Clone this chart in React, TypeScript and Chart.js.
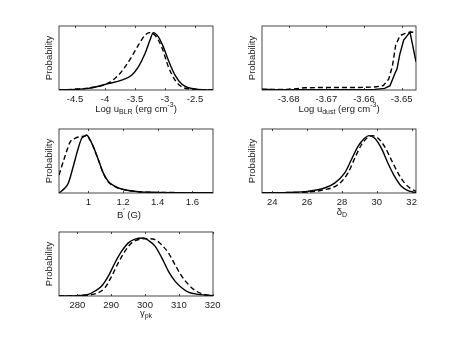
import React, { useEffect, useRef } from "react";
import { Chart, registerables } from "chart.js";
Chart.register(...registerables);

const W = 460;
const H = 345;

// ---- Panel 1: Log u_BLR ----
const blrSolidX = [-4.767, -4.5, -4.278, -3.944, -3.722, -3.556, -3.444, -3.333, -3.25, -3.194, -3.111, -3.028, -2.944, -2.833, -2.722, -2.611, -2.444, -2.2];
const blrSolidY = [0, 0.01, 0.026, 0.1, 0.155, 0.23, 0.36, 0.57, 0.78, 0.896, 0.83, 0.674, 0.466, 0.233, 0.093, 0.036, 0.01, 0];
const blrDashX = [-4.767, -4.5, -4.278, -3.944, -3.778, -3.667, -3.556, -3.444, -3.333, -3.261, -3.167, -3.056, -2.944, -2.833, -2.722, -2.556, -2.2];
const blrDashY = [0, 0.012, 0.03, 0.11, 0.23, 0.36, 0.52, 0.7, 0.855, 0.896, 0.855, 0.674, 0.363, 0.155, 0.05, 0.015, 0];
const blrTicks = [-4.5, -4, -3.5, -3, -2.5];
const blrTickLabels = ["-4.5", "-4", "-3.5", "-3", "-2.5"];

// ---- Panel 2: Log u_dust ----
const dustSolidX = [-3.68708, -3.68372, -3.67929, -3.67044, -3.66159, -3.65717, -3.65451, -3.6531, -3.65186, -3.65124, -3.65053, -3.64947, -3.64779, -3.6462];
const dustSolidY = [0.012, 0.005, 0.004, 0.005, 0.006, 0.01, 0.025, 0.067, 0.25, 0.33, 0.55, 0.78, 0.905, 0.44];
const dustDashX = [-3.68708, -3.68283, -3.67929, -3.67575, -3.67044, -3.66159, -3.65717, -3.65487, -3.65345, -3.65248, -3.65159, -3.65044, -3.6492, -3.64779, -3.6462];
const dustDashY = [0.01, 0.008, 0.012, 0.035, 0.04, 0.04, 0.046, 0.07, 0.17, 0.37, 0.7, 0.85, 0.88, 0.905, 0.9];
const dustTicks = [-3.68, -3.67, -3.66, -3.65];
const dustTickLabels = ["-3.68", "-3.67", "-3.66", "-3.65"];

// ---- Panel 3: B' ----
const bSolidX = [0.831, 0.865, 0.885, 0.913, 0.942, 0.962, 0.981, 0.99, 1.01, 1.029, 1.058, 1.087, 1.115, 1.154, 1.192, 1.288, 1.385, 1.719];
const bSolidY = [0, 0.078, 0.155, 0.415, 0.7, 0.855, 0.89, 0.907, 0.83, 0.725, 0.52, 0.31, 0.18, 0.104, 0.062, 0.02, 0.01, 0.005];
const bDashX = [0.831, 0.865, 0.894, 0.923, 0.952, 0.981, 0.99, 1.01, 1.029, 1.058, 1.087, 1.115, 1.154, 1.192, 1.288, 1.385, 1.719];
const bDashY = [0.28, 0.57, 0.79, 0.855, 0.88, 0.89, 0.9, 0.83, 0.72, 0.515, 0.305, 0.175, 0.1, 0.06, 0.02, 0.01, 0.005];
const bTicks = [1, 1.2, 1.4, 1.6];
const bTickLabels = ["1", "1.2", "1.4", "1.6"];

// ---- Panel 4: delta_D ----
const dSolidX = [23.41, 25.09, 26.05, 27.0, 27.58, 28.15, 28.54, 28.92, 29.3, 29.55, 29.88, 30.26, 30.64, 31.02, 31.41, 31.79, 32.25];
const dSolidY = [0.005, 0.01, 0.026, 0.078, 0.155, 0.31, 0.52, 0.73, 0.855, 0.896, 0.855, 0.7, 0.466, 0.26, 0.104, 0.036, 0.005];
const dDashX = [23.41, 25.09, 26.05, 27.0, 27.77, 28.34, 28.73, 29.11, 29.49, 29.74, 30.07, 30.45, 30.83, 31.22, 31.6, 31.98, 32.25];
const dDashY = [0.005, 0.008, 0.016, 0.052, 0.13, 0.31, 0.54, 0.75, 0.87, 0.896, 0.855, 0.725, 0.52, 0.31, 0.155, 0.062, 0.026];
const dTicks = [24, 26, 28, 30, 32];
const dTickLabels = ["24", "26", "28", "30", "32"];

// ---- Panel 5: gamma_pk ----
const gSolidX = [274.58, 281.28, 283.25, 285.22, 287.19, 289.16, 291.13, 293.1, 295.07, 297.04, 299.51, 300.99, 302.96, 304.93, 306.9, 308.87, 310.84, 312.81, 315.76, 320.1];
const gSolidY = [0, 0.01, 0.026, 0.078, 0.155, 0.31, 0.52, 0.7, 0.83, 0.89, 0.907, 0.87, 0.78, 0.6, 0.39, 0.233, 0.13, 0.062, 0.026, 0.005];
const gDashX = [274.58, 283.25, 286.21, 288.18, 290.15, 292.12, 294.09, 296.06, 298.03, 300.49, 302.96, 304.93, 306.9, 308.87, 310.84, 312.81, 314.78, 316.75, 318.72, 320.1];
const gDashY = [0, 0.016, 0.052, 0.13, 0.31, 0.52, 0.7, 0.83, 0.88, 0.896, 0.88, 0.8, 0.674, 0.49, 0.31, 0.181, 0.088, 0.036, 0.01, 0.005];
const gTicks = [280, 290, 300, 310, 320];
const gTickLabels = ["280", "290", "300", "310", "320"];

const yLabel = "Probability";

type Seg = [string, number]; // 0 normal, 1 subscript, -1 superscript

const blrTitle: Seg[] = [["Log u", 0], ["BLR", 1], [" (erg cm", 0], ["-3", -1], [")", 0]];
const dustTitle: Seg[] = [["Log u", 0], ["dust", 1], [" (erg cm", 0], ["-3", -1], [")", 0]];
const bTitle: Seg[] = [["B", 0], ["\u2032", -1], [" (G)", 0]];
const dTitle: Seg[] = [["\u03B4", 0], ["D", 1]];
const gTitle: Seg[] = [["\u03B3", 0], ["pk", 1]];

const FONT = "'Liberation Sans', Arial, Helvetica, sans-serif";
const INK = "#1a1a1a";

type PanelDef = {
  box: [number, number, number, number]; // left, top, right, bottom
  xMin: number;
  xMax: number;
  solidX: number[];
  solidY: number[];
  dashX: number[];
  dashY: number[];
  ticks: number[];
  tickLabels: string[];
  title: Seg[];
  titleDx: number;
  titleDy: number;
  smooth: boolean;
};

const panels: PanelDef[] = [
  { box: [59, 26, 213, 90], xMin: -4.767, xMax: -2.2, solidX: blrSolidX, solidY: blrSolidY, dashX: blrDashX, dashY: blrDashY, ticks: blrTicks, tickLabels: blrTickLabels, title: blrTitle, titleDx: 0, titleDy: 19, smooth: true },
  { box: [262, 26, 416, 90], xMin: -3.68708, xMax: -3.6462, solidX: dustSolidX, solidY: dustSolidY, dashX: dustDashX, dashY: dustDashY, ticks: dustTicks, tickLabels: dustTickLabels, title: dustTitle, titleDx: 0, titleDy: 19, smooth: false },
  { box: [59, 129, 213, 193], xMin: 0.831, xMax: 1.719, solidX: bSolidX, solidY: bSolidY, dashX: bDashX, dashY: bDashY, ticks: bTicks, tickLabels: bTickLabels, title: bTitle, titleDx: -7, titleDy: 22, smooth: true },
  { box: [262, 129, 416, 193], xMin: 23.41, xMax: 32.25, solidX: dSolidX, solidY: dSolidY, dashX: dDashX, dashY: dDashY, ticks: dTicks, tickLabels: dTickLabels, title: dTitle, titleDx: 3, titleDy: 19, smooth: true },
  { box: [59, 232, 213, 296], xMin: 274.58, xMax: 320.1, solidX: gSolidX, solidY: gSolidY, dashX: gDashX, dashY: gDashY, ticks: gTicks, tickLabels: gTickLabels, title: gTitle, titleDx: 10, titleDy: 17, smooth: true },
];

function drawRich(ctx: CanvasRenderingContext2D, segs: Seg[], cx: number, cy: number) {
  const big = 9.5;
  const small = 7;
  let total = 0;
  const widths: number[] = [];
  for (const [t, m] of segs) {
    ctx.font = `${m === 0 ? big : small}px ${FONT}`;
    const w = ctx.measureText(t).width;
    widths.push(w);
    total += w;
  }
  let x = cx - total / 2;
  ctx.textAlign = "left";
  ctx.textBaseline = "middle";
  segs.forEach(([t, m], i) => {
    ctx.font = `${m === 0 ? big : small}px ${FONT}`;
    const dy = m === 1 ? 3 : m === -1 ? -4 : 0;
    ctx.fillText(t, x, cy + dy);
    x += widths[i];
  });
}

const decorPlugin = {
  id: "matlabDecor",
  afterDraw(chart: any, _args: any, opts: any) {
    const { ctx, chartArea: a, scales } = chart;
    const xs = scales.x;
    ctx.save();
    ctx.strokeStyle = INK;
    ctx.lineWidth = 0.8;
    ctx.strokeRect(a.left, a.top, a.right - a.left, a.bottom - a.top);
    ctx.beginPath();
    for (const t of opts.ticks as number[]) {
      const px = Math.round(xs.getPixelForValue(t)) + 0.5;
      ctx.moveTo(px, a.bottom);
      ctx.lineTo(px, a.bottom - 2);
      ctx.moveTo(px, a.top);
      ctx.lineTo(px, a.top + 2);
    }
    ctx.stroke();
    ctx.fillStyle = INK;
    ctx.font = `9.5px ${FONT}`;
    ctx.textAlign = "center";
    ctx.textBaseline = "middle";
    (opts.ticks as number[]).forEach((t, i) => {
      ctx.fillText(opts.tickLabels[i], xs.getPixelForValue(t), a.bottom + 9.5);
    });
    ctx.save();
    ctx.translate(a.left - 9.5, (a.top + a.bottom) / 2);
    ctx.rotate(-Math.PI / 2);
    ctx.font = `9.5px ${FONT}`;
    ctx.fillText(yLabel, 0, 0);
    ctx.restore();
    drawRich(ctx, opts.title, (a.left + a.right) / 2 + opts.titleDx, a.bottom + opts.titleDy);
    ctx.restore();
  },
};

function Panel({ p }: { p: PanelDef }) {
  const ref = useRef<HTMLCanvasElement | null>(null);
  useEffect(() => {
    if (!ref.current) return;
    const [l, t, r, b] = p.box;
    const mk = (xsArr: number[], ysArr: number[]) => xsArr.map((x, i) => ({ x, y: ysArr[i] }));
    const chart = new Chart(ref.current, {
      type: "line",
      data: {
        datasets: [
          {
            data: mk(p.solidX, p.solidY),
            borderColor: "#000",
            borderWidth: 1.4,
            pointRadius: 0,
            fill: false,
            cubicInterpolationMode: p.smooth ? "monotone" : "default",
            tension: 0,
          },
          {
            data: mk(p.dashX, p.dashY),
            borderColor: "#000",
            borderWidth: 1.4,
            borderDash: [5, 3],
            pointRadius: 0,
            fill: false,
            cubicInterpolationMode: p.smooth ? "monotone" : "default",
            tension: 0,
          },
        ],
      },
      options: {
        animation: false,
        responsive: false,
        devicePixelRatio: 1,
        events: [],
        layout: { padding: { left: l, top: t, right: W - r, bottom: H - b } },
        scales: {
          x: { type: "linear", min: p.xMin, max: p.xMax, display: false },
          y: { type: "linear", min: 0, max: 1, display: false },
        },
        plugins: {
          legend: { display: false },
          tooltip: { enabled: false },
          matlabDecor: { ticks: p.ticks, tickLabels: p.tickLabels, title: p.title, titleDx: p.titleDx, titleDy: p.titleDy },
        } as any,
      },
      plugins: [decorPlugin],
    } as any);
    return () => chart.destroy();
  }, [p]);
  return (
    <canvas
      ref={ref}
      width={W}
      height={H}
      style={{ position: "absolute", left: 0, top: 0, width: W, height: H }}
    />
  );
}

export default function App() {
  return (
    <div style={{ position: "fixed", left: 0, top: 0, width: W, height: H, background: "#fff", overflow: "hidden" }}>
      {panels.map((p, i) => (
        <Panel key={i} p={p} />
      ))}
    </div>
  );
}
